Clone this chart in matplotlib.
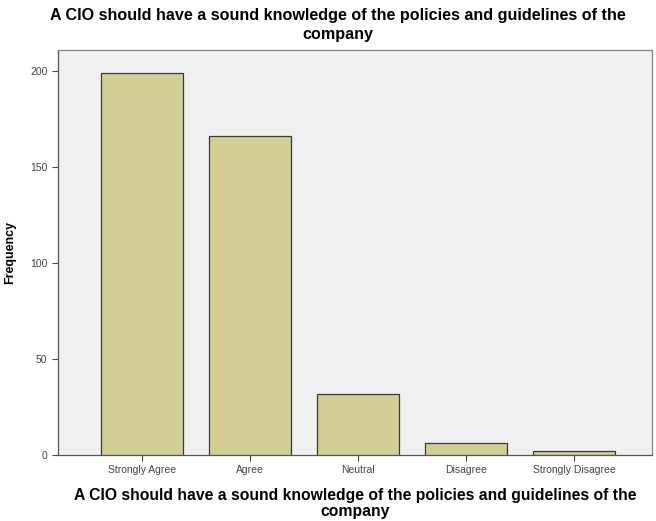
import matplotlib
matplotlib.use("Agg")
import matplotlib.pyplot as plt

categories = ["Strongly Agree", "Agree", "Neutral", "Disagree", "Strongly Disagree"]
frequency = [199, 166, 32, 6, 2]
yticks = [0, 50, 100, 150, 200]
title = "A CIO should have a sound knowledge of the policies and guidelines of the\ncompany"

plt.rcParams['font.family'] = ['Liberation Sans', 'DejaVu Sans']

fig = plt.figure(figsize=(6.56, 5.21), dpi=100)
ax = fig.add_axes([0.0884, 0.1267, 0.9056, 0.7773])
ax.set_facecolor('#f0f0f0')

x = list(range(len(categories)))
ax.bar(x, frequency, width=0.76, color='#d3ce94', edgecolor='#3a3a3a', linewidth=0.9, zorder=3)

ax.set_xlim(-0.78, len(categories) - 1 + 0.72)
ax.set_ylim(0, 211)
ax.set_yticks(yticks)
ax.set_yticklabels([str(v) for v in yticks])
ax.set_xticks(x)
ax.set_xticklabels(categories)

ax.tick_params(axis='both', labelsize=7.5, labelcolor='#444444', color='#444444', length=4, width=0.8)
for s in ax.spines.values():
    s.set_color('#888888')
    s.set_linewidth(0.9)
ax.spines['bottom'].set_color('#555555')
ax.spines['left'].set_color('#555555')

ax.set_ylabel("Frequency", fontsize=9, fontweight='bold', labelpad=10)
ax.set_xlabel(title, fontsize=11.3, fontweight='bold', labelpad=9, linespacing=1.1)
fig.suptitle(title, fontsize=11.6, fontweight='bold', x=0.515, y=0.984, linespacing=1.3)

fig.savefig("out.png", dpi=100)
